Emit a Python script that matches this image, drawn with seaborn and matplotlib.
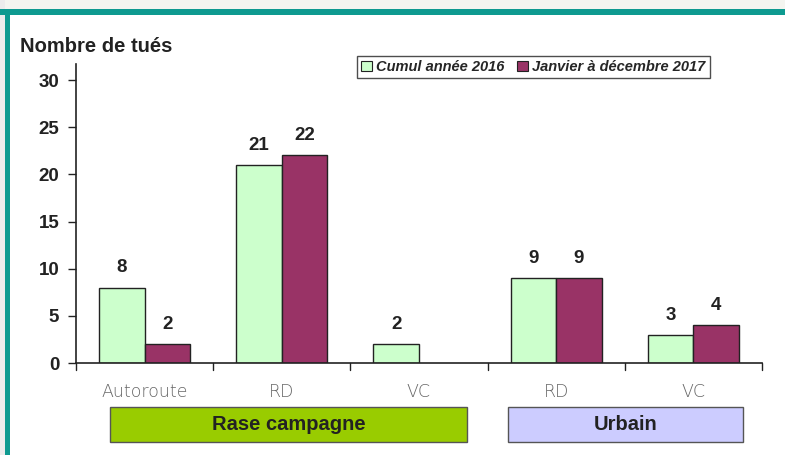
import matplotlib
matplotlib.use("Agg")
import matplotlib.pyplot as plt
import matplotlib.transforms as mtransforms
from matplotlib.patches import Rectangle
import seaborn as sns
import pandas as pd

# ---- data ----
categories = ["Autoroute", "RD", "VC", "RD ", "VC "]
category_labels = ["Autoroute", "RD", "VC", "RD", "VC"]
series_names = ["Cumul année 2016", "Janvier à décembre 2017"]
values_2016 = [8, 21, 2, 9, 3]
values_2017 = [2, 22, None, 9, 4]
groups = ["Rase campagne", "Urbain"]
yticks = [0, 5, 10, 15, 20, 25, 30]

rows = []
for c, v in zip(categories, values_2016):
    rows.append({"cat": c, "serie": series_names[0], "val": v})
for c, v in zip(categories, values_2017):
    rows.append({"cat": c, "serie": series_names[1], "val": v})
df = pd.DataFrame(rows)

sns.set_theme(style="white")
plt.rcParams["font.family"] = ["Liberation Sans", "DejaVu Sans"]

fig = plt.figure(figsize=(7.85, 4.55), dpi=100)
fig.patch.set_facecolor("white")

# frame decoration
fig.patches.append(Rectangle((0, 1 - 9 / 455), 1, 9 / 455, transform=fig.transFigure,
                             facecolor="#f4f5f0", edgecolor="none", zorder=0))
fig.patches.append(Rectangle((0, 0), 5 / 785, 1, transform=fig.transFigure,
                             facecolor="#ececec", edgecolor="none", zorder=0))
fig.patches.append(Rectangle((0, 1 - 15 / 455), 1, 6 / 455, transform=fig.transFigure,
                             facecolor="#0e9a90", edgecolor="none", zorder=1))
fig.patches.append(Rectangle((5 / 785, 0), 5 / 785, 1 - 9 / 455, transform=fig.transFigure,
                             facecolor="#0e9a90", edgecolor="none", zorder=1))

ax = fig.add_axes([76 / 785, 1 - 363 / 455, (762 - 76) / 785, (363 - 64) / 455])
palette = {series_names[0]: "#ccffcc", series_names[1]: "#993366"}
sns.barplot(data=df, x="cat", y="val", hue="serie", order=categories,
            hue_order=series_names, palette=palette, width=0.665, gap=0,
            edgecolor="#222222", linewidth=1.0, saturation=1, ax=ax, legend=False)

ax.set_xlim(-0.5, 4.5)
ax.set_ylim(0, 31.7)
ax.set_yticks(yticks)
ax.set_yticklabels([str(t) for t in yticks], fontsize=13.5, fontweight="bold", color="#222222")
ax.set_xticks([])
ax.set_xlabel("")
ax.set_ylabel("")
for s in ["top", "right"]:
    ax.spines[s].set_visible(False)
for s in ["left", "bottom"]:
    ax.spines[s].set_color("#222222")
    ax.spines[s].set_linewidth(1.2)
ax.tick_params(axis="y", direction="out", length=6, width=1, color="#222222", left=True, pad=6)

# category boundary ticks on x axis
for b in [-0.5, 0.5, 1.5, 2.5, 3.5, 4.5]:
    ax.plot([b, b], [0, -0.75], color="#222222", lw=1, clip_on=False)

# category labels
trans_xfig = mtransforms.blended_transform_factory(ax.transData, fig.transFigure)
for i, lab in enumerate(category_labels):
    ax.text(i, 1 - 392 / 455, lab, transform=trans_xfig, ha="center", va="center",
            fontsize=12.5, color="#666666", fontfamily=["DejaVu Sans"],
            fontweight="light")

# value labels
for cont in ax.containers:
    labels = []
    for bar in cont:
        h = bar.get_height()
        labels.append("" if (h != h or h == 0) else f"{int(h)}")
    ax.bar_label(cont, labels=labels, padding=8, fontsize=13.5, fontweight="bold", color="#222222")

# group boxes
group_spans = [(-0.252, 2.35), (2.65, 4.36)]
group_colors = ["#99cc00", "#ccccff"]
for g, (x0, x1), col in zip(groups, group_spans, group_colors):
    r = Rectangle((x0, 1 - 442 / 455), x1 - x0, 35 / 455, transform=trans_xfig,
                  facecolor=col, edgecolor="#555555", linewidth=1, clip_on=False)
    ax.add_patch(r)
    ax.text((x0 + x1) / 2, 1 - 424.5 / 455, g, transform=trans_xfig, ha="center", va="center",
            fontsize=14.5, fontweight="bold", color="#222222")

# legend
handles = [Rectangle((0, 0), 1, 1, facecolor=palette[s], edgecolor="#222222", lw=0.8)
           for s in series_names]
leg = fig.legend(handles, series_names, loc="center left",
                 bbox_to_anchor=(357 / 785, 1 - 67 / 455), ncol=2, frameon=True,
                 prop={"size": 10.5, "style": "italic", "weight": "bold"},
                 handlelength=0.7, handleheight=0.7, handletextpad=0.3, columnspacing=0.9,
                 borderpad=0.3, fancybox=False, borderaxespad=0)
leg.get_frame().set_edgecolor("#222222")
leg.get_frame().set_linewidth(1.0)

# title
fig.text(20 / 785, 1 - 46 / 455, "Nombre de tués", ha="left", va="center",
         fontsize=14.5, fontweight="bold", color="#222222")

fig.savefig("out.png", dpi=100)
